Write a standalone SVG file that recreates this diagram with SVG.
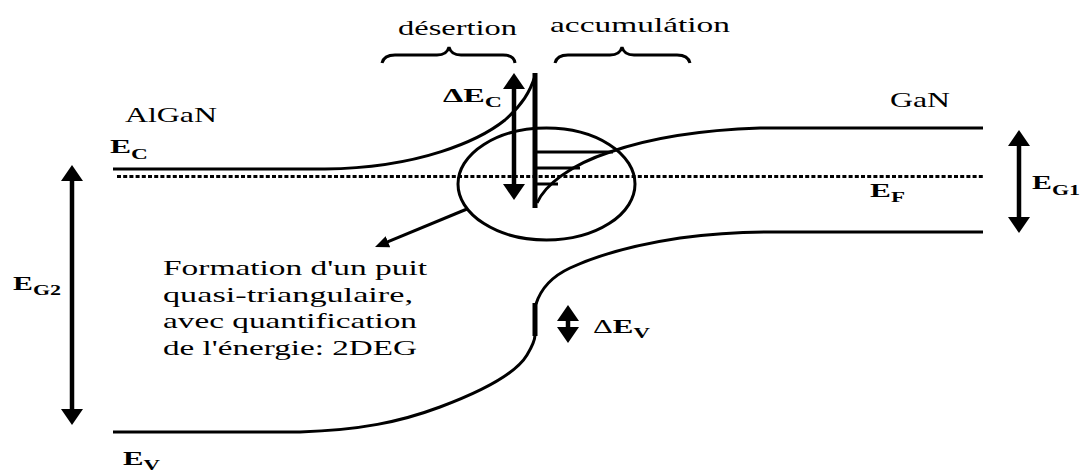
<svg xmlns="http://www.w3.org/2000/svg" width="1083" height="472" viewBox="0 0 1083 472" font-family="'Liberation Serif', 'DejaVu Serif', serif">
<style>
text{font-family:"Liberation Serif","DejaVu Serif",serif;fill:#000}
.t{font-size:22px}
.lbl{font-size:19px;font-weight:bold}
.sub{font-size:14px;font-weight:bold}
.d{font-weight:normal}
.ln{stroke:#000;stroke-width:3;fill:none}
.dot{stroke:#000;stroke-width:3;fill:none;stroke-dasharray:4 2.2}
.bar{stroke:#000;stroke-width:5;fill:none}
.arr{stroke:#000;stroke-width:4.5;fill:none;marker-end:url(#ah);marker-start:url(#ah)}
.arr1{stroke:#000;stroke-width:3;fill:none;marker-end:url(#ahs)}
</style>
<defs>
<marker id="ah" viewBox="0 0 16 22" markerWidth="16" markerHeight="22" refX="8" refY="11" orient="auto-start-reverse" markerUnits="userSpaceOnUse"><path d="M0,0 L16,11 L0,22 z" fill="#000"/></marker>
<marker id="ahs" viewBox="0 0 14 12" markerWidth="14" markerHeight="12" refX="7" refY="6" orient="auto" markerUnits="userSpaceOnUse"><path d="M0,0 L14,6 L0,12 z" fill="#000"/></marker>
</defs>
<rect width="1083" height="472" fill="#fff"/>

<g id="connectors">
<path id="ec-algan" class="ln" d="M113,169 H325 C420,168 480,140 505,120 C522,105 530,92 535,76"/>
<path id="ec-gan" class="ln" d="M537,203 C545,185 570,165 610,152 C650,138 700,130 760,128 H983"/>
<path id="ev-low" class="ln" d="M113,432 H300 C360,430 400,422 440,407 C480,392 515,375 527,355 C533,345 535,340 535,335"/>
<path id="ev-step" class="bar" d="M535,336 V303"/>
<path id="ev-high" class="ln" d="M536,304 C542,285 555,275 570,268 C600,254 640,244 680,238 C710,234 740,232 770,232 H983"/>
<path id="ef" class="dot" d="M117,176.5 H983"/>
<path id="barrier" class="bar" d="M535,73 V208"/>
<path id="well1" class="ln" d="M535,152 H613"/>
<path id="well2" class="ln" d="M535,168 H580"/>
<path id="well3" class="ln" d="M535,184 H558"/>
<path id="brace-l" class="ln" d="M382,63 Q384,55 395,55 H437 Q447,55 449,47 Q451,55 461,55 H503 Q514,55 515,63"/>
<path id="brace-r" class="ln" d="M555,63 Q557,55 568,55 H610 Q620,55 622,47 Q624,55 634,55 H677 Q688,55 690,63"/>
<path id="arr-eg2" class="arr" d="M72,173 V417"/>
<path id="arr-eg1" class="arr" d="M1019,138 V225"/>
<path id="arr-dec" class="arr" d="M514,81 V192"/>
<path id="arr-dev" class="arr" d="M568,313 V335"/>
<path id="arr-form" class="arr1" d="M467,209 L381.5,244.4"/>
</g>

<g id="well-circle"><ellipse cx="546.5" cy="184" rx="88.5" ry="56" class="ln"/></g>

<g id="label-desertion"><text class="t" x="398" y="35" textLength="119" lengthAdjust="spacingAndGlyphs">désertion</text></g>
<g id="label-accumulation"><text class="t" x="550" y="32" textLength="180" lengthAdjust="spacingAndGlyphs">accumulátion</text></g>
<g id="label-algan"><text class="t" x="125" y="122" textLength="92" lengthAdjust="spacingAndGlyphs">AlGaN</text></g>
<g id="label-gan"><text class="t" x="890" y="107" textLength="60" lengthAdjust="spacingAndGlyphs">GaN</text></g>

<g id="label-ec"><text class="lbl" x="110" y="153" textLength="38" lengthAdjust="spacingAndGlyphs">E<tspan class="sub" dy="6">C</tspan></text></g>
<g id="label-dec"><text class="lbl" x="443" y="102" textLength="59" lengthAdjust="spacingAndGlyphs">ΔE<tspan class="sub" dy="5">C</tspan></text></g>
<g id="label-eg2"><text class="lbl" x="13" y="290" textLength="48" lengthAdjust="spacingAndGlyphs">E<tspan class="sub" dy="5">G2</tspan></text></g>
<g id="label-ev"><text class="lbl" x="123" y="465" textLength="37" lengthAdjust="spacingAndGlyphs">E<tspan class="sub" dy="5">V</tspan></text></g>
<g id="label-ef"><text class="lbl" x="870" y="197" textLength="35" lengthAdjust="spacingAndGlyphs">E<tspan class="sub" dy="5">F</tspan></text></g>
<g id="label-eg1"><text class="lbl" x="1032" y="189" textLength="48" lengthAdjust="spacingAndGlyphs">E<tspan class="sub" dy="6">G1</tspan></text></g>
<g id="label-dev"><text class="lbl" x="593" y="333" textLength="57" lengthAdjust="spacingAndGlyphs"><tspan class="d">Δ</tspan>E<tspan class="sub" dy="5">V</tspan></text></g>

<g id="label-formation">
<text class="t" x="163" y="275" textLength="264" lengthAdjust="spacingAndGlyphs">Formation d'un puit</text>
<text class="t" x="163" y="301.5" textLength="250" lengthAdjust="spacingAndGlyphs">quasi-triangulaire,</text>
<text class="t" x="163" y="328" textLength="254" lengthAdjust="spacingAndGlyphs">avec quantification</text>
<text class="t" x="163" y="355" textLength="254" lengthAdjust="spacingAndGlyphs">de l'énergie: 2DEG</text>
</g>
</svg>
